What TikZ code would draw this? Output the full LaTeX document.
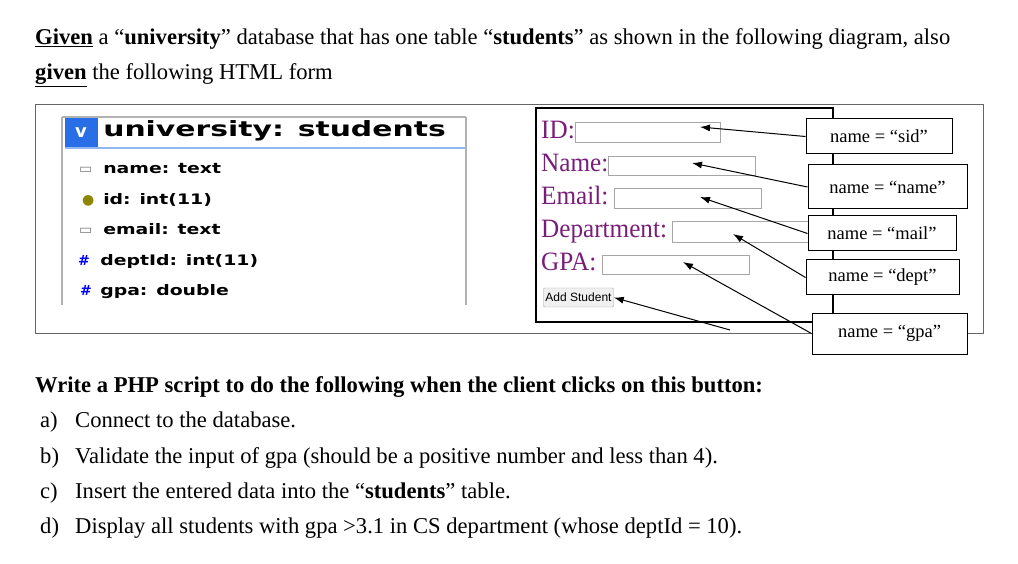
\documentclass[tikz,border=0pt]{standalone}
\usepackage{fontspec}
\setmainfont{Liberation Serif}
\newfontfamily\dbfont{DejaVu Sans}
\newfontfamily\btnfont{Liberation Sans}
\usetikzlibrary{arrows.meta}
\definecolor{formpurple}{RGB}{120,30,120}
\definecolor{dbblue}{RGB}{40,110,230}
\newcommand{\itm}[1]{\makebox[35pt][l]{#1}}
\tikzset{
  txt/.style={anchor=base west,inner sep=0pt,font=\fontsize{22.6}{26}\selectfont},
  dbrow/.style={anchor=base west,inner sep=0pt,xscale=1.3,font=\dbfont\bfseries\fontsize{14.5}{16}\selectfont},
  icon/.style={anchor=base west,inner sep=0pt,font=\dbfont\bfseries\fontsize{14}{16}\selectfont},
  flabel/.style={anchor=base west,inner sep=0pt,xscale=0.95,text=formpurple,font=\fontsize{26.5}{30}\selectfont},
  field/.style={draw=gray!70,line width=0.8pt},
  namebox/.style={draw,line width=1pt,fill=white,font=\fontsize{18.5}{20}\selectfont},
  arr/.style={-{Latex[length=10pt,width=7pt]},line width=1pt}
}
\begin{document}
\begin{tikzpicture}[x=1pt,y=-1pt]
\useasboundingbox (0,0) rectangle (1018,564);
\node[txt] (t1) at (35,45) {\textbf{\underline{Given}} a “\textbf{university}” database that has one table “\textbf{students}” as shown in the following diagram, also};
\node[txt] (t2) at (35,80) {\textbf{\underline{given}} the following HTML form};
% outer box
\draw[gray!80!black,line width=1pt] (35,105) rectangle (983,333);
% db panel
\draw[gray!60,line width=1.5pt] (62,117) -- (466,117);
\draw[gray!60,line width=1.5pt] (62,117) -- (62,305);
\draw[gray!60,line width=1.5pt] (466,117) -- (466,305);
\draw[dbblue!50,line width=1.2pt] (65,148) -- (466,148);
\fill[dbblue] (65,118) rectangle (98,147);
\node[font=\dbfont\bfseries\fontsize{18}{20}\selectfont,text=white] (vic) at (81,133) {v};
\node[anchor=base west,inner sep=0pt,xscale=1.42,font=\dbfont\bfseries\fontsize{21}{24}\selectfont] (dbt) at (103,137) {university: students};
\node[dbrow] (r1) at (103,174) {name: text};
\node[dbrow] (r2) at (103,205) {id: int(11)};
\node[dbrow] (r3) at (103,235) {email: text};
\node[dbrow] (r4) at (100,266) {deptId: int(11)};
\node[dbrow] (r5) at (100,296) {gpa: double};
\node[icon,text=gray] (i1) at (79,174) {▭};
\node[icon,text=olive] (i2) at (82,205) {●};
\node[icon,text=gray] (i3) at (79,235) {▭};
\node[icon,text=blue] (i4) at (78,266) {\#};
\node[icon,text=blue] (i5) at (80,296) {\#};
% form
\draw[line width=1.2pt] (536,108) rectangle (833,322);
\node[flabel] (lid) at (541,139) {ID:};
\node[flabel] (lname) at (541,172) {Name:};
\node[flabel] (lmail) at (541,205) {Email:};
\node[flabel] (ldept) at (541,238) {Department:};
\node[flabel] (lgpa) at (541,271) {GPA:};
\draw[field] (575,122) rectangle (720,142);
\draw[field] (608,156) rectangle (755,175);
\draw[field] (614,188) rectangle (761,208);
\draw[field] (672,221) rectangle (812,242);
\draw[field] (602,255) rectangle (749,274);
\node[draw=gray!70,fill=gray!12,rounded corners=1pt,inner sep=2pt,font=\btnfont\fontsize{12}{12}\selectfont,minimum height=19pt] (btn) at (578.5,297.5) {Add Student};
\coordinate (fid) at (700,127);
\coordinate (fname) at (692,163);
\coordinate (fmail) at (700,197);
\coordinate (fdept) at (733,234);
\coordinate (fgpa) at (683,262);
\coordinate (free) at (730,330);
% name boxes
\node[namebox,minimum width=146pt,minimum height=35pt] (bsid) at (879,136.5) {name = “sid”};
\node[namebox,minimum width=159pt,minimum height=44pt] (bname) at (887.5,187) {name = “name”};
\node[namebox,minimum width=148pt,minimum height=35pt] (bmail) at (882,233.5) {name = “mail”};
\node[namebox,minimum width=153pt,minimum height=35pt] (bdept) at (882.5,277.5) {name = “dept”};
\node[namebox,minimum width=155pt,minimum height=41pt] (bgpa) at (889.5,333.5) {name = “gpa”};
\draw[arr] (bsid.west) -- (fid);
\draw[arr] (bname.west) -- (fname);
\draw[arr] (bmail.west) -- (fmail);
\draw[arr] (bdept.west) -- (fdept);
\draw[arr] (bgpa.west) -- (fgpa);
\draw[arr] (free) -- (btn.east);
% bottom text
\node[txt] (w) at (35,392) {\textbf{Write a PHP script to do the following when the client clicks on this button:}};
\node[txt] (a) at (40,427) {\itm{a)}Connect to the database.};
\node[txt] (b) at (40,463) {\itm{b)}Validate the input of gpa (should be a positive number and less than 4).};
\node[txt] (c) at (40,498) {\itm{c)}Insert the entered data into the “\textbf{students}” table.};
\node[txt] (d) at (40,533) {\itm{d)}Display all students with gpa >3.1 in CS department (whose deptId = 10).};
\end{tikzpicture}
\end{document}
